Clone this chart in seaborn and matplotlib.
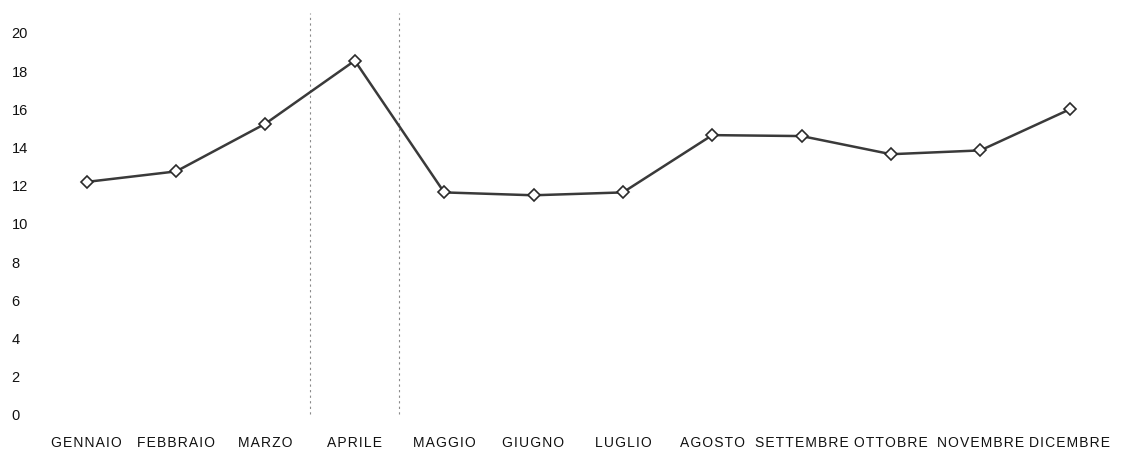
import matplotlib
matplotlib.use("Agg")
import matplotlib.pyplot as plt
import seaborn as sns
import pandas as pd

# Monthly values
mesi = ["GENNAIO", "FEBBRAIO", "MARZO", "APRILE", "MAGGIO", "GIUGNO",
        "LUGLIO", "AGOSTO", "SETTEMBRE", "OTTOBRE", "NOVEMBRE", "DICEMBRE"]
valori = [12.15, 12.7, 15.2, 18.5, 11.6, 11.45, 11.6, 14.6, 14.55, 13.6, 13.8, 15.95]
y_ticks = [0, 2, 4, 6, 8, 10, 12, 14, 16, 18, 20]

sns.set_style("white")
plt.rcParams["font.family"] = ["Liberation Sans", "DejaVu Sans"]

df = pd.DataFrame({"mese": mesi, "valore": valori})
df["pos"] = range(len(mesi))

fig = plt.figure(figsize=(11.36, 4.52), dpi=100)
ax = fig.add_axes([0.037, 0.082, 0.944, 0.845])

# Dotted markers around April
for xv in (2.5, 3.5):
    ax.axvline(xv, ymin=0.0, ymax=1.05, color="#8a8a8a", lw=0.8,
               ls=(0, (2, 3)), zorder=1, clip_on=False)

sns.lineplot(data=df, x="pos", y="valore", ax=ax, color="#3a3a3a",
             linewidth=1.8, marker="D", markersize=6,
             markerfacecolor="white", markeredgecolor="#2a2a2a",
             markeredgewidth=1.2, zorder=3)

ax.set_xlim(-0.5, len(mesi) - 0.5)
ax.set_ylim(0, 20)
ax.set_xticks(df["pos"])
# letter-spaced month names (hair space between letters)
ax.set_xticklabels(["\u200a".join(m) for m in mesi], fontsize=10, color="#111111")
ax.set_yticks(y_ticks)
ax.set_yticklabels([str(v) for v in y_ticks], fontsize=10.5, color="#111111")
ax.tick_params(axis="both", length=0)
ax.tick_params(axis="x", pad=15)
ax.tick_params(axis="y", pad=22)
for lbl in ax.get_yticklabels():
    lbl.set_horizontalalignment("left")
ax.set_xlabel("")
ax.set_ylabel("")
sns.despine(ax=ax, left=True, bottom=True)

fig.savefig("out.png", dpi=100, facecolor="white")
